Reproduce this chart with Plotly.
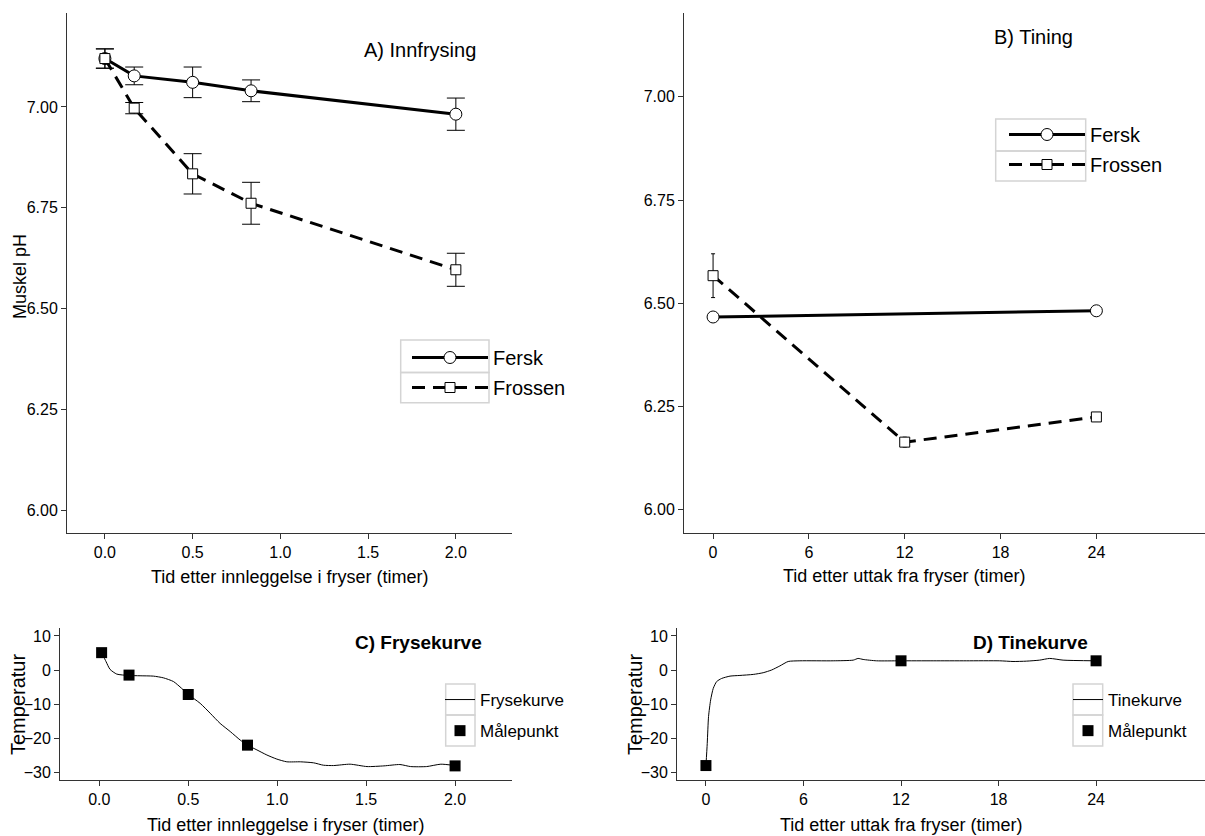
import plotly.graph_objects as go

W, H = 1205, 836

# ---------------- data ----------------
# Panel A: Innfrysing (time in hours after placing in freezer)
a_time = [0.0, 0.167, 0.5, 0.833, 2.0]
a_fersk = [7.120, 7.077, 7.061, 7.040, 6.982]
a_fersk_err = [0.024, 0.022, 0.038, 0.027, 0.040]
a_frossen = [7.120, 6.997, 6.834, 6.761, 6.596]
a_frossen_err = [0.024, 0.014, 0.050, 0.052, 0.041]

# Panel B: Tining (time in hours after removal from freezer)
b_fersk_time = [0, 24]
b_fersk = [6.467, 6.482]
b_fersk_err = [0.010, 0.006]
b_frossen_time = [0, 12, 24]
b_frossen = [6.567, 6.164, 6.225]
b_frossen_err = [0.053, 0.012, 0.010]

# Panel C: Frysekurve
c_curve_time = [0.013, 0.038, 0.06, 0.098, 0.163, 0.229, 0.304, 0.36, 0.417, 0.463,
                0.5, 0.567, 0.623, 0.679, 0.736, 0.792, 0.833, 0.886, 0.942, 0.998,
                1.054, 1.13, 1.205, 1.26, 1.317, 1.41, 1.505, 1.6, 1.69, 1.75,
                1.84, 1.92, 2.0]
c_curve_temp = [5.1, 2.45, 0.2, -1.2, -1.6, -1.7, -1.8, -2.3, -3.4, -5.4,
                -7.2, -9.8, -12.7, -15.7, -18.1, -20.6, -22.1, -23.5, -25.0, -26.2,
                -27.0, -27.0, -27.3, -28.0, -28.1, -27.7, -28.4, -28.2, -27.8, -28.4,
                -28.4, -27.7, -28.1]
c_point_time = [0.013, 0.167, 0.5, 0.833, 2.0]
c_point_temp = [5.1, -1.5, -7.2, -22.1, -28.2]

# Panel D: Tinekurve
d_curve_time = [0.0, 0.08, 0.16, 0.29, 0.45, 0.66, 0.96, 1.48, 2.09, 2.91,
                3.52, 4.04, 4.55, 5.06, 5.78, 7.83, 9.06, 9.36, 9.67, 10.49,
                11.93, 13.98, 16.02, 18.07, 18.89, 19.71, 20.53, 21.15, 21.97, 24.0]
d_curve_temp = [-28.1, -21.6, -13.7, -8.8, -5.4, -3.4, -2.5, -1.8, -1.6, -1.3,
                -0.8, 0.0, 1.2, 2.5, 2.7, 2.7, 2.9, 3.4, 3.1, 2.7,
                2.7, 2.7, 2.7, 2.7, 2.5, 2.6, 2.9, 3.4, 2.9, 2.7]
d_point_time = [0, 12, 24]
d_point_temp = [-28.1, 2.7, 2.7]

ph_ticks = [6.0, 6.25, 6.5, 6.75, 7.0]
a_xticks = [0.0, 0.5, 1.0, 1.5, 2.0]
b_xticks = [0, 6, 12, 18, 24]
temp_ticks = [-30, -20, -10, 0, 10]

FONT = "Liberation Sans, Arial, sans-serif"
AX = "#333333"


def px_x(p):
    return p / W


def px_y(p):
    return 1 - p / H


fig = go.Figure()

dash = "13px,8px"

# Panel A
fig.add_trace(go.Scatter(
    x=a_time, y=a_fersk, name="Fersk", mode="lines+markers",
    line=dict(color="black", width=3),
    marker=dict(symbol="circle", size=12, color="white", line=dict(color="black", width=1)),
    error_y=dict(type="data", array=a_fersk_err, color="black", thickness=1, width=9),
    xaxis="x", yaxis="y", legend="legend", legendgroup="a1"))
fig.add_trace(go.Scatter(
    x=a_time, y=a_frossen, name="Frossen", mode="lines+markers",
    line=dict(color="black", width=3, dash=dash),
    marker=dict(symbol="square", size=10, color="white", line=dict(color="black", width=1)),
    error_y=dict(type="data", array=a_frossen_err, color="black", thickness=1, width=9),
    xaxis="x", yaxis="y", legend="legend", legendgroup="a2"))

# Panel B
fig.add_trace(go.Scatter(
    x=b_fersk_time, y=b_fersk, name="Fersk", mode="lines+markers",
    line=dict(color="black", width=3),
    marker=dict(symbol="circle", size=12, color="white", line=dict(color="black", width=1)),
    error_y=dict(type="data", array=b_fersk_err, color="black", thickness=1, width=2),
    xaxis="x2", yaxis="y2", legend="legend2", legendgroup="b1"))
fig.add_trace(go.Scatter(
    x=b_frossen_time, y=b_frossen, name="Frossen", mode="lines+markers",
    line=dict(color="black", width=3, dash=dash),
    marker=dict(symbol="square", size=10, color="white", line=dict(color="black", width=1)),
    error_y=dict(type="data", array=b_frossen_err, color="black", thickness=1, width=2),
    xaxis="x2", yaxis="y2", legend="legend2", legendgroup="b2"))

# Panel C
fig.add_trace(go.Scatter(
    x=c_curve_time, y=c_curve_temp, name="Frysekurve", mode="lines",
    line=dict(color="black", width=1, shape="spline", smoothing=0.6),
    xaxis="x3", yaxis="y3", legend="legend3", legendgroup="c1"))
fig.add_trace(go.Scatter(
    x=c_point_time, y=c_point_temp, name="Målepunkt", mode="markers",
    marker=dict(symbol="square", size=11, color="black"),
    xaxis="x3", yaxis="y3", legend="legend3", legendgroup="c2"))

# Panel D
fig.add_trace(go.Scatter(
    x=d_curve_time, y=d_curve_temp, name="Tinekurve", mode="lines",
    line=dict(color="black", width=1, shape="spline", smoothing=0.6),
    xaxis="x4", yaxis="y4", legend="legend4", legendgroup="d1"))
fig.add_trace(go.Scatter(
    x=d_point_time, y=d_point_temp, name="Målepunkt", mode="markers",
    marker=dict(symbol="square", size=11, color="black"),
    xaxis="x4", yaxis="y4", legend="legend4", legendgroup="d2"))


def axis(domain, rng, ticks, fmt, size, anchor):
    return dict(domain=domain, range=rng, tickvals=ticks, tickformat=fmt,
                showgrid=False, zeroline=False, showline=True, linecolor=AX, linewidth=1,
                ticks="outside", ticklen=5, tickcolor=AX, tickwidth=1,
                tickfont=dict(family=FONT, size=size, color="black"),
                anchor=anchor, automargin=False, fixedrange=True)


top_dom = [px_y(533), px_y(13)]
bot_dom = [px_y(780), px_y(628)]

layout = dict(
    width=W, height=H, margin=dict(l=0, r=0, t=0, b=0),
    paper_bgcolor="white", plot_bgcolor="white",
    font=dict(family=FONT, color="black"),
    xaxis=axis([px_x(67), px_x(512)], [-0.216, 2.32], a_xticks, ".1f", 16, "y"),
    yaxis=axis(top_dom, [5.943, 7.233], ph_ticks, ".2f", 16, "x"),
    xaxis2=axis([px_x(684), 1.0], [-1.82, 30.8], b_xticks, "d", 16, "y2"),
    yaxis2=axis(top_dom, [5.944, 7.203], ph_ticks, ".2f", 16, "x2"),
    xaxis3=axis([px_x(60), px_x(512)], [-0.221, 2.32], a_xticks, ".1f", 16, "y3"),
    yaxis3=axis(bot_dom, [-32.35, 12.35], temp_ticks, "d", 16, "x3"),
    xaxis4=axis([px_x(677), 1.0], [-1.78, 30.7], b_xticks, "d", 16, "y4"),
    yaxis4=axis(bot_dom, [-32.35, 12.35], temp_ticks, "d", 16, "x4"),
)


def leg(xp, yp, size, iw, gap):
    return dict(x=px_x(xp), y=px_y(yp), xanchor="left", yanchor="top",
                font=dict(family=FONT, size=size, color="black"),
                bgcolor="rgba(0,0,0,0)", borderwidth=0, itemwidth=iw,
                tracegroupgap=gap, traceorder="grouped")


layout["legend"] = leg(407, 338, 20, 76, 1)
layout["legend2"] = leg(1004, 115, 20, 76, 1)
layout["legend3"] = leg(440, 682, 17, 30, 6)
layout["legend4"] = leg(1068, 682, 17, 30, 6)

# legend cell frames
shapes = []
for (x0, x1, ys) in [(400.7, 489, [340, 372.5, 402.7]), (995.7, 1085.7, [119, 151, 181]),
                     (445.7, 475, [684, 715, 746]), (1073, 1102.7, [684, 715, 746])]:
    for i in range(2):
        shapes.append(dict(type="rect", xref="paper", yref="paper",
                           x0=px_x(x0), x1=px_x(x1), y0=px_y(ys[i + 1]), y1=px_y(ys[i]),
                           line=dict(color="#d4d4d4", width=1.5), layer="below"))
layout["shapes"] = shapes


def ann(text, xp, yp, size, bold=False, angle=0):
    return dict(text=("<b>%s</b>" % text) if bold else text, x=px_x(xp), y=px_y(yp),
                xref="paper", yref="paper", xanchor="center", yanchor="middle",
                showarrow=False, textangle=angle,
                font=dict(family=FONT, size=size, color="black"))


layout["annotations"] = [
    ann("A) Innfrysing", 420, 50, 20),
    ann("B) Tining", 1033, 37, 20),
    ann("C) Frysekurve", 418, 642, 19, bold=True),
    ann("D) Tinekurve", 1030, 642, 19, bold=True),
    ann("Tid etter innleggelse i fryser (timer)", 289, 577, 18),
    ann("Tid etter uttak fra fryser (timer)", 904, 576, 18),
    ann("Tid etter innleggelse i fryser (timer)", 285, 825, 18),
    ann("Tid etter uttak fra fryser (timer)", 901, 825, 18),
    ann("Muskel pH", 20, 277, 18, angle=-90),
    ann("Temperatur", 18, 705, 20, angle=-90),
    ann("Temperatur", 635, 705, 20, angle=-90),
]

fig.update_layout(**layout)
fig.write_html("out.html", config=dict(displayModeBar=False))
